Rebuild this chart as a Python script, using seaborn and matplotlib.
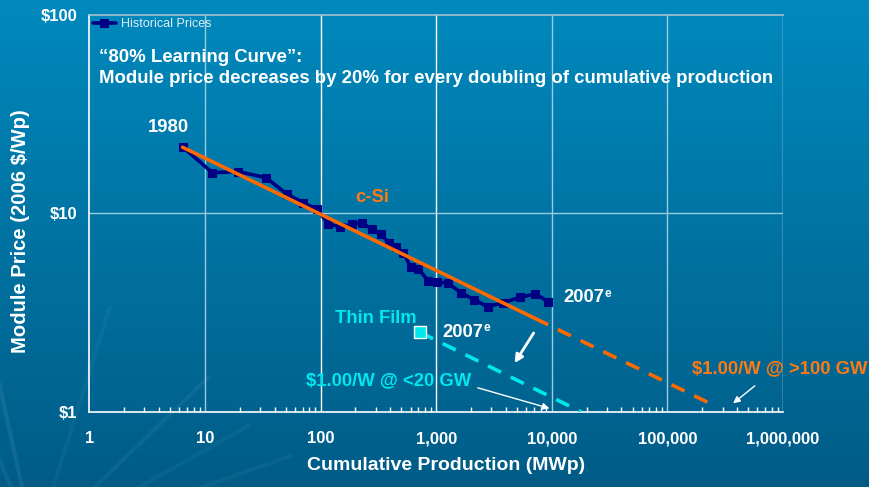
import numpy as np
import pandas as pd
import seaborn as sns
import matplotlib
matplotlib.use("Agg")
import matplotlib.pyplot as plt

# historical c-Si module prices (cumulative MWp, 2006 $/Wp)
hist_mwp = [6.4, 11.6, 19.5, 33.8, 51, 71, 92.7, 117, 148, 186, 227, 277, 332,
            394, 450, 520, 603, 702, 857, 1024, 1276, 1634, 2142, 2797, 3770,
            5320, 7180, 9350]
hist_price = [21.6, 16.0, 16.2, 15.1, 12.5, 11.3, 10.5, 8.8, 8.55, 8.8, 8.95,
              8.33, 7.83, 7.05, 6.78, 6.32, 5.36, 5.25, 4.55, 4.52, 4.43, 3.98,
              3.66, 3.38, 3.54, 3.77, 3.92, 3.58]

# learning curve fits
csi_solid_x = [6.4, 7180]
csi_solid_y = [21.5, 2.95]
csi_dash_x = [7180, 267000]
csi_dash_y = [2.95, 1.06]
thin_x = [726, 17900]
thin_y = [2.51, 1.0]

x_ticks = [1, 10, 100, 1000, 10000, 100000, 1000000]
x_labels = ['1', '10', '100', '1,000', '10,000', '100,000', '1,000,000']
y_ticks = [1, 10, 100]
y_labels = ['$1', '$10', '$100']

sns.set_style("white")
plt.rcParams['font.family'] = ['Liberation Sans', 'DejaVu Sans']

fig = plt.figure(figsize=(8.7, 4.87), dpi=100)

# gradient background with a few faint rays bottom left
bg = fig.add_axes([0, 0, 1, 1], zorder=-10)
top = np.array([0, 137, 189]) / 255
bot = np.array([0, 92, 135]) / 255
t = np.linspace(0, 1, 200)[:, None]
grad = top[None, None, :] * (1 - t[:, :, None]) + bot[None, None, :] * t[:, :, None]
grad = np.repeat(grad, 2, axis=1)
bg.imshow(grad, aspect='auto', extent=[0, 1, 0, 1])
for ang, a, ln in [(97, 0.07, 0.5), (103, 0.06, 0.45), (80, 0.04, 0.5),
                   (60, 0.05, 0.4), (45, 0.04, 0.35), (32, 0.04, 0.35)]:
    r = np.radians(ang)
    bg.plot([0.04, 0.04 + ln * np.cos(r)], [-0.12, -0.12 + ln * np.sin(r)],
            color='white', alpha=a, lw=3, solid_capstyle='butt')
bg.set_xlim(0, 1)
bg.set_ylim(0, 1)
bg.axis('off')

ax = fig.add_axes([89.3 / 870, 1 - 411.7 / 487, (783 - 89.3) / 870, (411.7 - 14.7) / 487])
ax.set_facecolor('none')

df = pd.DataFrame({'mwp': hist_mwp, 'price': hist_price})
sns.lineplot(data=df, x='mwp', y='price', sort=False, ax=ax, color='#000085',
             lw=2.6, marker='s', markersize=6, markeredgecolor='#000085',
             label='Historical Prices', zorder=3)

ax.plot(csi_solid_x, csi_solid_y, color='#FF6A00', lw=2.6, zorder=4)
ax.plot(csi_dash_x, csi_dash_y, color='#FF6A00', lw=2.6, ls=(0, (4, 3)), zorder=4)
ax.plot(thin_x, thin_y, color='#00E8EE', lw=2.6, ls=(0, (4, 3)), zorder=4)
ax.plot(thin_x[:1], thin_y[:1], marker='s', markersize=8, color='#00E8EE',
        markeredgecolor='white', markeredgewidth=1, zorder=5)

ax.set_xscale('log')
ax.set_yscale('log')
ax.set_xlim(1, 1000000)
ax.set_ylim(1, 100)

ax.set_xticks(x_ticks)
ax.set_xticklabels(x_labels)
ax.set_yticks(y_ticks)
ax.set_yticklabels(y_labels)
ax.yaxis.set_minor_locator(matplotlib.ticker.NullLocator())
ax.xaxis.set_minor_locator(matplotlib.ticker.LogLocator(base=10, subs=np.arange(2, 10)))
ax.xaxis.set_minor_formatter(matplotlib.ticker.NullFormatter())

ax.tick_params(axis='both', which='major', colors='white', length=5, width=1,
               direction='out', labelsize=12)
ax.tick_params(axis='x', which='minor', colors='white', length=3.5, width=1,
               direction='in', bottom=True)
ax.tick_params(axis='x', which='major', pad=9)
for lbl in ax.get_xticklabels() + ax.get_yticklabels():
    lbl.set_fontweight('bold')

# gridlines
light = '#9ACBE0'
for xv, c in zip(x_ticks[1:], [light, 'white', 'white', light, light, 'white']):
    ax.axvline(xv, color=c, lw=1, zorder=1)
ax.axhline(10, color=light, lw=1, zorder=1)

ax.spines['right'].set_visible(False)
ax.spines['top'].set_color('#A9BFCC')
ax.spines['left'].set_color('white')
ax.spines['bottom'].set_color('white')
for s in ax.spines.values():
    s.set_linewidth(1.2)

ax.set_xlabel('Cumulative Production (MWp)', color='white', fontsize=14,
              fontweight='bold')
ax.set_ylabel('Module Price (2006 $/Wp)', color='white', fontsize=14.6,
              fontweight='bold')
ax.xaxis.set_label_coords(0.515, -0.114)
ax.yaxis.set_label_coords(-0.086, 0.455)

leg = ax.legend(loc='upper left', frameon=False, fontsize=9, handlelength=1.8,
                handletextpad=0.4, borderaxespad=0.1, borderpad=0.2)
for txt in leg.get_texts():
    txt.set_color('#DDEEF6')

ax.text(0.014, 0.893, '\u201c80% Learning Curve\u201d:', transform=ax.transAxes,
        color='white', fontsize=13.4, fontweight='bold', va='center', ha='left')
ax.text(0.014, 0.840,
        'Module price decreases by 20% for every doubling of cumulative production',
        transform=ax.transAxes, color='white', fontsize=13.4, fontweight='bold',
        va='center', ha='left')

bold = dict(fontweight='bold', fontsize=13.3)
ax.text(4.8, 26.9, '1980', color='white', ha='center', va='center', **bold)
ax.text(279, 12.06, 'c-Si', color='#FF7A10', ha='center', va='center', **bold)
ax.text(303, 2.965, 'Thin Film', color='#00E8EE', ha='center', va='center', **bold)
for xv, yv in [(12530, 3.74), (1125, 2.52)]:
    t07 = ax.text(xv, yv, '2007', color='white', ha='left', va='center', **bold)
    ax.annotate('e', xy=(1, 1), xycoords=t07, xytext=(0.5, 1), textcoords='offset points',
                color='white', fontsize=8.5, fontweight='bold', ha='left', va='top')

ax.text(386, 1.428, '$1.00/W @ <20 GW', color='#00E8EE', ha='center', va='center', **bold)
ax.text(944000, 1.64, '$1.00/W @ >100 GW', color='#FF7A10', ha='center', va='center',
        **bold, clip_on=False)

ax.annotate('', xy=(10070, 1.03), xytext=(2173, 1.331),
            arrowprops=dict(arrowstyle='-|>', color='white', lw=1, mutation_scale=10))
ax.annotate('', xy=(354800, 1.08), xytext=(595000, 1.377),
            arrowprops=dict(arrowstyle='-|>', color='white', lw=1, mutation_scale=10))
ax.annotate('', xy=(4630, 1.71), xytext=(7180, 2.56),
            arrowprops=dict(arrowstyle='-|>', color='white', lw=2, mutation_scale=12))

fig.savefig('out.png', dpi=100)
